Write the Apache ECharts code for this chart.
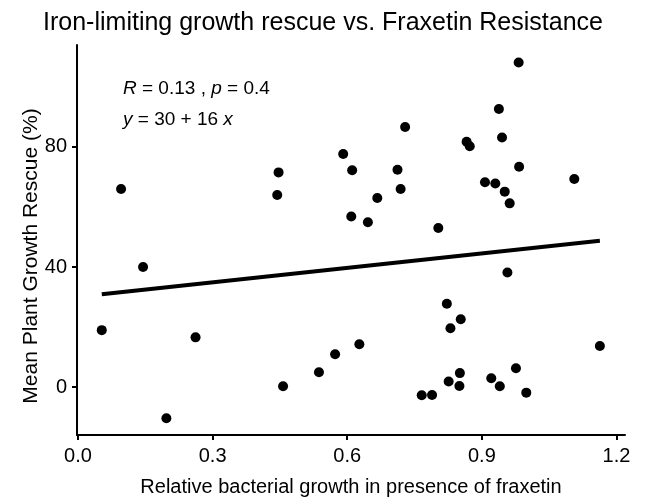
<!DOCTYPE html>
<html>
<head>
<meta charset="utf-8">
<script src="https://cdn.jsdelivr.net/npm/echarts@6/dist/echarts.min.js"></script>
<style>
  html, body { margin: 0; padding: 0; background: #fff; }
  #container { width: 646px; height: 502px; }
</style>
</head>
<body>
<div id="container"></div>
<script>
// relative bacterial growth (x) and mean plant growth rescue % (y)
var bacterialGrowth = [
    0.096, 0.447, 0.444, 0.591, 0.611, 0.609, 0.982, 0.938, 0.729, 0.945,
    0.866, 0.873, 0.712, 0.983, 1.106, 0.907, 0.930, 0.719, 0.951, 0.667,
    0.962, 0.646, 0.803, 0.053, 0.145, 0.262, 0.197, 0.457, 0.537, 0.573,
    0.627, 0.957, 0.822, 0.853, 0.830, 1.163, 0.976, 0.851, 0.826, 0.921,
    0.850, 0.940, 0.766, 0.789, 0.999
];
var plantRescue = [
    66.0, 71.5, 64.0, 77.6, 72.2, 56.8, 108.1, 92.6, 86.6, 83.1,
    81.7, 80.2, 72.4, 73.4, 69.3, 68.2, 67.8, 66.0, 65.1, 63.0,
    61.2, 54.9, 53.0, 19.0, 40.0, 16.6, -10.3, 0.3, 5.0, 11.0,
    14.3, 38.2, 27.8, 22.6, 19.6, 13.7, 6.3, 4.7, 1.9, 3.0,
    0.4, 0.3, -2.7, -2.6, -1.8
];
var xTicks = [0, 0.3, 0.6, 0.9, 1.2];
var yTicks = [0, 40, 80];

var FONT = 'Liberation Sans, Arial, sans-serif';

var points = bacterialGrowth.map(function (x, i) { return [x, plantRescue[i]]; });

// least squares fit
var n = points.length, mx = 0, my = 0;
points.forEach(function (p) { mx += p[0]; my += p[1]; });
mx /= n; my /= n;
var sxy = 0, sxx = 0;
points.forEach(function (p) { sxy += (p[0] - mx) * (p[1] - my); sxx += (p[0] - mx) * (p[0] - mx); });
var slope = sxy / sxx;
var intercept = my - slope * mx;
var xLo = Math.min.apply(null, bacterialGrowth);
var xHi = Math.max.apply(null, bacterialGrowth);
var fitLine = [[xLo, intercept + slope * xLo], [xHi, intercept + slope * xHi]];

var dom = document.getElementById('container');
var myChart = echarts.init(dom, null, { renderer: 'canvas' });

var axisCommon = {
    type: 'value',
    nameLocation: 'middle',
    nameTextStyle: { fontFamily: FONT, fontSize: 20, color: '#000' },
    axisLine: { show: true, onZero: false, lineStyle: { color: '#000', width: 2 } },
    axisTick: { show: true, length: 5, lineStyle: { color: '#000', width: 2 } },
    axisLabel: { fontFamily: FONT, fontSize: 20, color: '#000' },
    splitLine: { show: false }
};

var noteRich = { i: { fontStyle: 'italic', fontFamily: FONT, fontSize: 19 } };

var option = {
    backgroundColor: '#fff',
    animation: false,
    title: {
        text: 'Iron-limiting growth rescue vs. Fraxetin Resistance',
        left: 'center',
        top: 6,
        textStyle: { fontFamily: FONT, fontSize: 25, fontWeight: 'normal', color: '#000' }
    },
    grid: { left: 77, right: 21, top: 45, bottom: 64 },
    xAxis: echarts.util.merge({
        name: 'Relative bacterial growth in presence of fraxetin',
        nameGap: 42,
        min: -0.0022,
        max: 1.219,
        axisTick: { customValues: xTicks },
        axisLabel: {
            customValues: xTicks,
            margin: 11,
            formatter: function (v) { return v.toFixed(1); }
        }
    }, axisCommon, false),
    yAxis: echarts.util.merge({
        min: -15.9,
        max: 113.9,
        axisTick: { customValues: yTicks },
        axisLabel: { customValues: yTicks, margin: 10 }
    }, axisCommon, false),
    graphic: [
        {
            // y axis title
            type: 'text',
            x: 31,
            y: 256,
            rotation: Math.PI / 2,
            style: {
                text: 'Mean Plant Growth Rescue (%)',
                font: '21px ' + FONT,
                fill: '#000',
                align: 'center',
                verticalAlign: 'middle'
            }
        },
        {
            type: 'text',
            left: 123,
            top: 79,
            style: {
                text: '{i|R} = 0.13 , {i|p} = 0.4',
                font: '19px ' + FONT,
                fill: '#000',
                rich: noteRich
            }
        },
        {
            type: 'text',
            left: 123,
            top: 110,
            style: {
                text: '{i|y} = 30 + 16 {i|x}',
                font: '19px ' + FONT,
                fill: '#000',
                rich: noteRich
            }
        }
    ],
    series: [
        {
            type: 'scatter',
            data: points,
            symbolSize: 10,
            itemStyle: { color: '#000', opacity: 1 },
            z: 3
        },
        {
            type: 'line',
            data: fitLine,
            showSymbol: false,
            lineStyle: { color: '#000', width: 4 },
            z: 2
        }
    ]
};

myChart.setOption(option);
</script>
</body>
</html>
